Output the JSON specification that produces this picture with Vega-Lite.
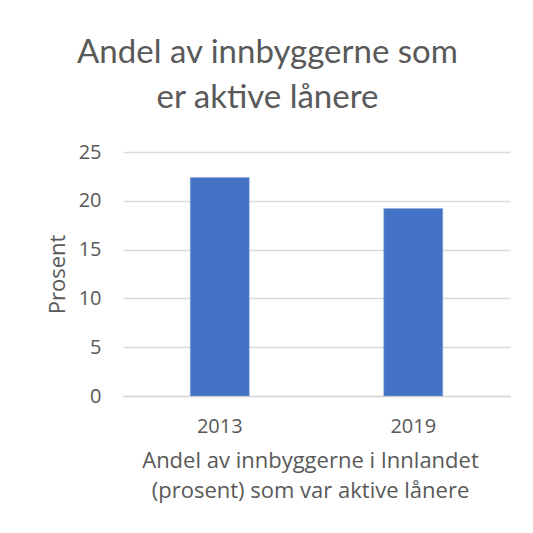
{
  "$schema": "https://vega.github.io/schema/vega-lite/v6.json",
  "autosize": "none",
  "width": 387,
  "height": 244,
  "padding": {"left": 123, "top": 152, "right": 23, "bottom": 137},
  "background": "white",
  "title": {
    "text": ["Andel av innbyggerne som", "er aktive lånere"],
    "font": "Lato",
    "fontSize": 33,
    "fontWeight": "normal",
    "color": "#595959",
    "lineHeight": 45,
    "anchor": "middle",
    "dx": -49,
    "offset": 27
  },
  "data": {
    "values": [
      {"year": "2013", "value": 22.4},
      {"year": "2019", "value": 19.2}
    ]
  },
  "mark": {"type": "bar", "color": "#4472C4", "stroke": "#8FAADC", "strokeWidth": 0.5},
  "encoding": {
    "x": {
      "field": "year",
      "type": "nominal",
      "scale": {"paddingInner": 0.695, "paddingOuter": 0.3475},
      "axis": {
        "title": ["Andel av innbyggerne i Innlandet", "(prosent) som var aktive lånere"],
        "labelAngle": 0,
        "ticks": false,
        "labelPadding": 20,
        "titlePadding": 14,
        "titleLineHeight": 30,
        "titleFontSize": 22,
        "titleX": 187,
        "domainColor": "#d9d9d9",
        "domainWidth": 1.5
      }
    },
    "y": {
      "field": "value",
      "type": "quantitative",
      "scale": {"domain": [0, 25]},
      "axis": {
        "title": "Prosent",
        "values": [0, 5, 10, 15, 20, 25],
        "ticks": false,
        "domain": false,
        "labelPadding": 22,
        "titlePadding": 9,
        "titleFontSize": 22,
        "gridColor": "#d9d9d9",
        "gridWidth": 1.5
      }
    }
  },
  "config": {
    "view": {"stroke": null},
    "axis": {
      "labelFont": "Open Sans",
      "labelFontSize": 20,
      "labelColor": "#595959",
      "titleFont": "Open Sans",
      "titleFontSize": 20,
      "titleFontWeight": "normal",
      "titleColor": "#595959"
    }
  }
}
